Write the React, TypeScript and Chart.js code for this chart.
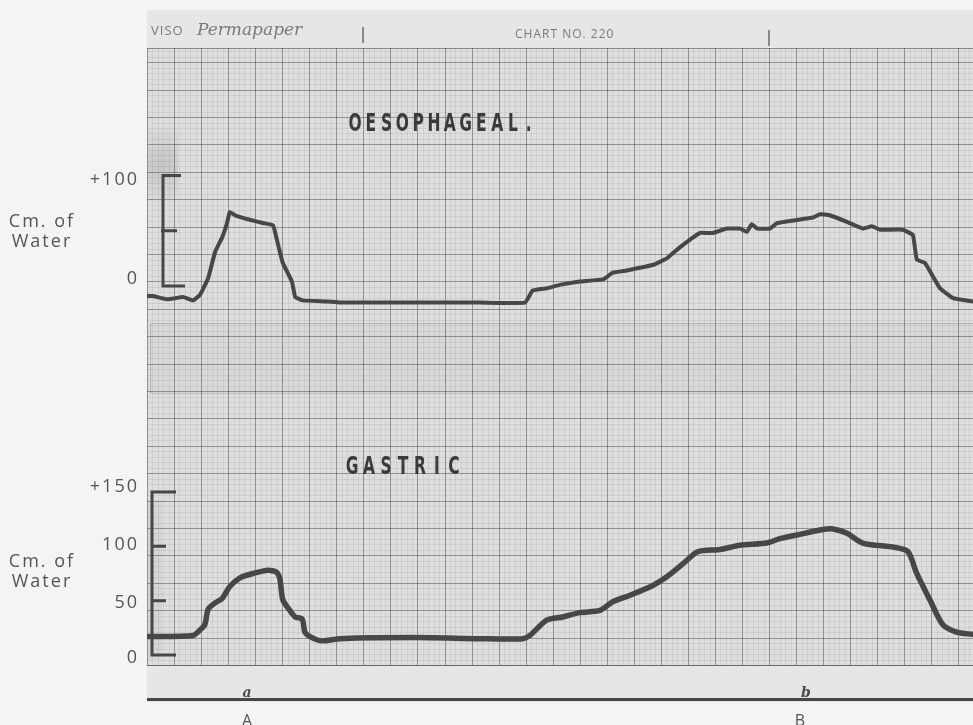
import React, { useEffect, useRef } from "react";
import { Chart, registerables } from "chart.js";

Chart.register(...registerables);

// ---- DATA (time in chart-paper small divisions, pressure in cm of water) ----
const oesTime = [
  0.2, 1.1, 3.7, 6.7, 8.5, 9.8, 11.3, 12.6, 13.9, 14.8,
  15.3, 16.3, 19.0, 21.4, 23.3, 24.0, 25.1, 26.8, 27.4, 28.8,
  33.3, 35.7, 61.6, 69.9, 71.3, 73.9, 76.3, 80.0, 84.3, 86.1,
  88.7, 90.6, 93.5, 96.1, 98.5, 100.4, 102.2, 104.6, 107.2, 109.6,
  110.9, 111.8, 112.8, 115.2, 116.5, 123.1, 124.4, 126.2, 129.4, 132.3,
  134.0, 135.5, 139.7, 141.6, 142.3, 143.8, 146.6, 149.0, 152.7,
];
const oesPressure = [
  -9, -9, -12, -10, -13, -8, 7, 31, 44, 57,
  67, 64, 60, 57, 55, 42, 21, 4, -10, -13,
  -14, -15, -15, -15, -4, -2, 1, 4, 6, 12,
  14, 16, 19, 25, 35, 42, 48, 48, 52, 52,
  49, 56, 52, 52, 57, 62, 65, 64, 58, 52,
  54, 51, 51, 46, 24, 21, -2, -11, -14,
];
const gasTime = [
  0.2, 8.5, 9.8, 10.7, 11.3, 12.6, 13.9, 15.3, 17.2, 19.6,
  22.4, 24.0, 24.6, 25.1, 26.4, 27.4, 28.7, 29.2, 30.5, 32.3,
  35.7, 49.9, 61.6, 69.5, 70.8, 73.9, 76.9, 80.0, 83.7, 86.1,
  89.3, 93.5, 96.1, 99.1, 101.8, 105.9, 109.6, 114.6, 117.0, 120.7,
  124.4, 126.8, 129.4, 132.3, 138.3, 140.7, 142.3, 144.7, 147.1, 149.7,
  152.7,
];
const gasPressure = [
  17, 18, 23, 28, 42, 48, 52, 63, 71, 75,
  78, 76, 69, 51, 41, 35, 33, 21, 16, 13,
  15, 16, 15, 15, 18, 32, 35, 39, 41, 49,
  55, 64, 72, 84, 95, 97, 101, 103, 107, 111,
  115, 116, 112, 103, 99, 95, 75, 51, 28, 21,
  19,
];

const oesTicks = [0, 50, 100];
const oesTickLabels = ["0", "", "+100"];
const gasTicks = [0, 50, 100, 150];
const gasTickLabels = ["0", "50", "100", "+150"];
const axisTitle = ["Cm. of", "Water"];
const panelTitles = ["OESOPHAGEAL.", "GASTRIC"];
const eventTime = [18.5, 120.7];
const eventLabels = ["A", "B"];
const eventMarks = ["a", "b"];
const headerTexts = ["VISO", "Permapaper", "CHART NO. 220"];

const TRACE = "#474747";
const INK = "#555555";

function drawSpaced(ctx: CanvasRenderingContext2D, text: string, x0: number, pitch: number, y: number, sx: number) {
  for (let i = 0; i < text.length; i++) {
    ctx.save();
    ctx.translate(x0 + i * pitch, y);
    ctx.scale(sx, 1);
    ctx.fillText(text[i], 0, 0);
    ctx.restore();
  }
}

const paperPlugin = {
  id: "paper",
  beforeDraw(chart: any) {
    const { ctx, chartArea: a, scales } = chart;
    const W = chart.width;
    const H = chart.height;
    ctx.save();
    ctx.fillStyle = "#f4f4f4";
    ctx.fillRect(0, 0, W, H);
    // paper strip
    ctx.fillStyle = "#e6e6e6";
    ctx.fillRect(a.left, 10, a.right - a.left, 692);
    // grid field
    ctx.fillStyle = "#dedede";
    ctx.fillRect(a.left, a.top, a.right - a.left, a.bottom - a.top);
    // splice band
    ctx.fillStyle = "rgba(0,0,0,0.025)";
    ctx.fillRect(a.left + 3, 323, a.right - a.left - 3, 70);
    ctx.strokeStyle = "rgba(0,0,0,0.15)";
    ctx.lineWidth = 1;
    ctx.strokeRect(a.left + 3.5, 323.5, a.right - a.left, 70);
    // stains near calibration brackets
    const g = ctx.createRadialGradient(a.left + 14, 165, 4, a.left + 14, 165, 42);
    g.addColorStop(0, "rgba(0,0,0,0.10)");
    g.addColorStop(1, "rgba(0,0,0,0)");
    ctx.fillStyle = g;
    ctx.fillRect(a.left + 1, 125, 30, 80);
    ctx.fillStyle = "rgba(0,0,0,0.035)";
    ctx.fillRect(a.left + 1, 500, 14, 160);

    const xs = scales.x;
    const yp = scales.yP;
    ctx.lineWidth = 1;
    // vertical lines
    for (let i = Math.ceil(xs.min); i <= xs.max; i++) {
      const px = Math.round(xs.getPixelForValue(i)) + 0.5;
      ctx.strokeStyle = i % 5 === 0 ? "rgba(70,70,70,0.5)" : "rgba(90,90,90,0.1)";
      ctx.beginPath();
      ctx.moveTo(px, a.top);
      ctx.lineTo(px, a.bottom);
      ctx.stroke();
    }
    // horizontal lines
    for (let j = 0; j / 5 <= yp.max; j++) {
      const py = Math.round(yp.getPixelForValue(j / 5)) + 0.5;
      ctx.strokeStyle = j % 5 === 0 ? "rgba(70,70,70,0.5)" : "rgba(90,90,90,0.1)";
      ctx.beginPath();
      ctx.moveTo(a.left, py);
      ctx.lineTo(a.right, py);
      ctx.stroke();
    }
    // grid borders
    ctx.strokeStyle = "rgba(70,70,70,0.55)";
    ctx.beginPath();
    ctx.moveTo(a.left, a.top + 0.5);
    ctx.lineTo(a.right, a.top + 0.5);
    ctx.moveTo(a.left, a.bottom + 0.5);
    ctx.lineTo(a.right, a.bottom + 0.5);
    ctx.stroke();
    ctx.restore();
  },
  afterDraw(chart: any) {
    const { ctx, chartArea: a, scales } = chart;
    const yO = scales.yO;
    const yG = scales.yG;
    const xs = scales.x;
    ctx.save();

    // header
    ctx.fillStyle = "#7a7a7a";
    ctx.textBaseline = "alphabetic";
    ctx.textAlign = "left";
    ctx.font = "13px 'Open Sans'";
    (ctx as any).letterSpacing = "1px";
    ctx.fillText(headerTexts[0], 151, 35);
    (ctx as any).letterSpacing = "0px";
    ctx.font = "italic 17px 'DejaVu Serif'";
    ctx.fillText(headerTexts[1], 197, 35);
    ctx.font = "12px 'Open Sans'";
    (ctx as any).letterSpacing = "1px";
    ctx.fillText(headerTexts[2], 515, 38);
    (ctx as any).letterSpacing = "0px";
    ctx.strokeStyle = "#6a6a6a";
    ctx.lineWidth = 1.5;
    ctx.beginPath();
    ctx.moveTo(363, 27);
    ctx.lineTo(363, 43);
    ctx.moveTo(769, 30);
    ctx.lineTo(769, 46);
    ctx.stroke();

    // panel titles
    ctx.fillStyle = "#3a3a3a";
    ctx.font = "bold 25px 'DejaVu Sans'";
    ctx.textAlign = "center";
    ctx.textBaseline = "middle";
    drawSpaced(ctx, panelTitles[0], 355, 15.8, 124, 0.62);
    drawSpaced(ctx, panelTitles[1], 352, 17, 467, 0.62);

    // calibration brackets
    ctx.strokeStyle = TRACE;
    ctx.lineWidth = 3;
    ctx.lineCap = "butt";
    const o0 = yO.getPixelForValue(oesTicks[0]);
    const o1 = yO.getPixelForValue(oesTicks[1]);
    const o2 = yO.getPixelForValue(oesTicks[2]);
    ctx.beginPath();
    ctx.moveTo(163, o2 - 1.5);
    ctx.lineTo(163, o0 + 1.5);
    ctx.moveTo(161.5, o2);
    ctx.lineTo(181, o2);
    ctx.moveTo(161, o1);
    ctx.lineTo(177, o1);
    ctx.moveTo(161.5, o0);
    ctx.lineTo(185, o0);
    ctx.stroke();
    const gp = gasTicks.map((v) => yG.getPixelForValue(v));
    ctx.beginPath();
    ctx.moveTo(152, gp[3] - 1.5);
    ctx.lineTo(152, gp[0] + 1.5);
    ctx.moveTo(150.5, gp[3]);
    ctx.lineTo(176, gp[3]);
    ctx.moveTo(150.5, gp[2]);
    ctx.lineTo(166, gp[2]);
    ctx.moveTo(150.5, gp[1]);
    ctx.lineTo(166, gp[1]);
    ctx.moveTo(150.5, gp[0]);
    ctx.lineTo(176, gp[0]);
    ctx.stroke();

    // tick labels
    ctx.fillStyle = INK;
    ctx.font = "18px 'Open Sans'";
    (ctx as any).letterSpacing = "2px";
    ctx.textAlign = "right";
    ctx.textBaseline = "middle";
    const oesNudge = [-7, 0, 4];
    oesTicks.forEach((v, i) => {
      if (oesTickLabels[i]) ctx.fillText(oesTickLabels[i], 139, yO.getPixelForValue(v) + oesNudge[i]);
    });
    const gasNudge = [3, 2, -1, -5];
    gasTicks.forEach((v, i) => {
      ctx.fillText(gasTickLabels[i], 139, yG.getPixelForValue(v) + gasNudge[i]);
    });

    // axis titles
    ctx.textAlign = "center";
    const oMid = yO.getPixelForValue(50);
    const gMid = yG.getPixelForValue(75);
    ctx.fillText(axisTitle[0], 42, oMid - 9);
    ctx.fillText(axisTitle[1], 42, oMid + 11);
    ctx.fillText(axisTitle[0], 42, gMid - 12);
    ctx.fillText(axisTitle[1], 42, gMid + 8);
    (ctx as any).letterSpacing = "0px";

    // event marker line
    ctx.strokeStyle = "#474747";
    ctx.lineWidth = 3;
    ctx.beginPath();
    ctx.moveTo(a.left, 699.5);
    ctx.lineTo(a.right, 699.5);
    ctx.stroke();
    ctx.fillStyle = "#4a4a4a";
    ctx.font = "italic bold 14px 'DejaVu Serif'";
    ctx.textBaseline = "alphabetic";
    eventTime.forEach((t, i) => {
      ctx.fillText(eventMarks[i], xs.getPixelForValue(t) + (i === 1 ? 6 : 0), 697);
    });
    ctx.fillStyle = INK;
    ctx.font = "16px 'Open Sans'";
    eventTime.forEach((t, i) => {
      ctx.fillText(eventLabels[i], xs.getPixelForValue(t), 726);
    });
    ctx.restore();
  },
};

export default function App() {
  const ref = useRef<HTMLCanvasElement | null>(null);
  useEffect(() => {
    document.body.style.margin = "0";
    const canvas = ref.current;
    if (!canvas) return;
    const chart = new Chart(canvas, {
      type: "line",
      data: {
        datasets: [
          {
            label: "Oesophageal",
            data: oesTime.map((t, i) => ({ x: t, y: oesPressure[i] })),
            yAxisID: "yO",
            borderColor: TRACE,
            borderWidth: 4,
            pointRadius: 0,
            tension: 0.1,
            borderJoinStyle: "round",
            borderCapStyle: "round",
            fill: false,
          },
          {
            label: "Gastric",
            data: gasTime.map((t, i) => ({ x: t, y: gasPressure[i] })),
            yAxisID: "yG",
            borderColor: TRACE,
            borderWidth: 5.5,
            pointRadius: 0,
            tension: 0.25,
            borderJoinStyle: "round",
            borderCapStyle: "round",
            fill: false,
          },
        ],
      },
      options: {
        animation: false,
        responsive: false,
        devicePixelRatio: 1,
        layout: { padding: { left: 147, right: 0, top: 48, bottom: 60 } },
        plugins: { legend: { display: false }, tooltip: { enabled: false } },
        events: [],
        scales: {
          x: { type: "linear", min: 0, max: 152.7, display: false },
          yO: { type: "linear", min: -343.0, max: 215.4, display: false },
          yG: { type: "linear", min: -9.2, max: 558.4, display: false },
          yP: { type: "linear", min: 0, max: 22.52, display: false },
        },
      } as any,
      plugins: [paperPlugin as any],
    });
    return () => chart.destroy();
  }, []);
  return (
    <div style={{ width: 973, height: 725 }}>
      <canvas ref={ref} width={973} height={725} />
    </div>
  );
}
